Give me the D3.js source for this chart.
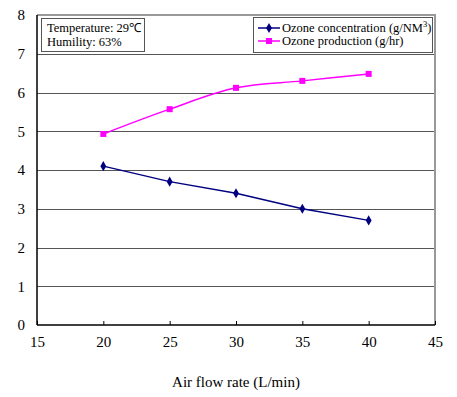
<!DOCTYPE html>
<html><head><meta charset="utf-8">
<script src="https://cdn.jsdelivr.net/npm/d3@7"></script>
<style>body{margin:0;background:#fff}</style>
</head><body><svg id="c" width="457" height="397"></svg>
<script>
const flowRates = [20, 25, 30, 35, 40];
const concentration = [4.1, 3.7, 3.4, 3.0, 2.7];
const production = [4.93, 5.57, 6.12, 6.3, 6.48];
const xTicks = [15, 20, 25, 30, 35, 40, 45];
const yTicks = [0, 1, 2, 3, 4, 5, 6, 7, 8];
const seriesNames = ["Ozone concentration (g/NM", "Ozone production (g/hr)"];

const FONT = "Liberation Serif";
const svg = d3.select("#c");
const L = 37, R = 435, T = 15, B = 325;
const x = d3.scaleLinear().domain([15, 45]).range([L, R]);
const y = d3.scaleLinear().domain([0, 8]).range([B, T]);

// gridlines
svg.append("g").selectAll("line").data(yTicks.filter(d => d > 0 && d < 8)).join("line")
  .attr("x1", L).attr("x2", R).attr("y1", d => Math.round(y(d)) + 0.5).attr("y2", d => Math.round(y(d)) + 0.5)
  .attr("stroke", "#555").attr("stroke-width", 1);

// top & right borders (gray)
svg.append("line").attr("x1", L).attr("x2", R + 1).attr("y1", T).attr("y2", T).attr("stroke", "#999").attr("stroke-width", 2);
svg.append("line").attr("x1", R).attr("x2", R).attr("y1", T).attr("y2", B).attr("stroke", "#999").attr("stroke-width", 2);

// axes
const xAxis = d3.axisBottom(x).tickValues(xTicks).tickSize(-4).tickPadding(10);
const gx = svg.append("g").attr("transform", `translate(0,${B})`).call(xAxis).attr("font-family", FONT);
gx.select(".domain").attr("stroke", "#000").attr("stroke-width", 1.5).attr("d", `M${L},0H${R}`);
gx.selectAll(".tick line").attr("stroke", "#000");
gx.selectAll("text").attr("font-size", 15).attr("font-family", FONT).attr("fill", "#000").attr("dy", "0.8em");

const yAxis = d3.axisLeft(y).tickValues(yTicks).tickSize(0).tickPadding(12);
const gy = svg.append("g").attr("transform", `translate(${L},0)`).call(yAxis).attr("font-family", FONT);
gy.select(".domain").attr("stroke", "#000").attr("stroke-width", 1.5).attr("d", `M0,${T}V${B}`);
gy.selectAll("text").attr("font-size", 15).attr("font-family", FONT).attr("fill", "#000");

svg.append("text").attr("x", (L + R) / 2).attr("y", 387).attr("text-anchor", "middle")
  .attr("font-family", FONT).attr("font-size", 15).text("Air flow rate (L/min)");

// lines
const concData = flowRates.map((f, i) => [f, concentration[i]]);
const prodData = flowRates.map((f, i) => [f, production[i]]);
const lineStraight = d3.line().x(d => x(d[0])).y(d => y(d[1]));
const lineSmooth = d3.line().x(d => x(d[0])).y(d => y(d[1])).curve(d3.curveCatmullRom.alpha(0.5));

svg.append("path").datum(prodData).attr("d", lineSmooth).attr("fill", "none").attr("stroke", "#ff00ff").attr("stroke-width", 1.5);
svg.append("path").datum(concData).attr("d", lineStraight).attr("fill", "none").attr("stroke", "#000080").attr("stroke-width", 1.5);

svg.append("g").selectAll("rect").data(prodData).join("rect")
  .attr("x", d => x(d[0]) - 3).attr("y", d => y(d[1]) - 3).attr("width", 6).attr("height", 6).attr("fill", "#ff00ff");
const diamond = d3.symbol().type(d3.symbolDiamond).size(30);
svg.append("g").selectAll("path").data(concData).join("path")
  .attr("transform", d => `translate(${x(d[0])},${y(d[1])})`).attr("d", diamond).attr("fill", "#000080");

// info box
svg.append("rect").attr("x", 41.5).attr("y", 18.5).attr("width", 103).attr("height", 33)
  .attr("fill", "#fff").attr("stroke", "#555").attr("stroke-width", 1);
svg.append("text").attr("x", 47).attr("y", 32).attr("font-family", FONT).attr("font-size", 12.5).text("Temperature: 29\u2103");
svg.append("text").attr("x", 47).attr("y", 46).attr("font-family", FONT).attr("font-size", 12.5).text("Humility: 63%");

// legend
svg.append("rect").attr("x", 253.5).attr("y", 17.5).attr("width", 179).attr("height", 35)
  .attr("fill", "#fff").attr("stroke", "#555").attr("stroke-width", 1);
const lg = svg.append("g");
lg.append("line").attr("x1", 258).attr("x2", 280).attr("y1", 28).attr("y2", 28).attr("stroke", "#000080").attr("stroke-width", 1.5);
lg.append("path").attr("transform", "translate(269,28)").attr("d", diamond).attr("fill", "#000080");
lg.append("line").attr("x1", 258).attr("x2", 280).attr("y1", 41).attr("y2", 41).attr("stroke", "#ff00ff").attr("stroke-width", 1.5);
lg.append("rect").attr("x", 266).attr("y", 38).attr("width", 6).attr("height", 6).attr("fill", "#ff00ff");
const t1 = lg.append("text").attr("x", 282).attr("y", 32).attr("font-family", FONT).attr("font-size", 12.5).text(seriesNames[0]);
t1.append("tspan").attr("dy", -5).attr("font-size", 8.5).text("3");
t1.append("tspan").attr("dy", 5).text(")");
lg.append("text").attr("x", 282).attr("y", 45).attr("font-family", FONT).attr("font-size", 12.5).text(seriesNames[1]);
</script></body></html>
